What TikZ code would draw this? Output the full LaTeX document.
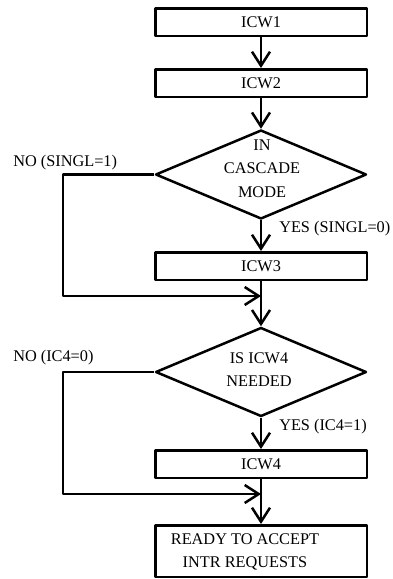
\documentclass[tikz,border=0pt]{standalone}
\usepackage{fontspec}
\setmainfont{Liberation Serif}
\usetikzlibrary{shapes.geometric,arrows.meta}
\begin{document}
\begin{tikzpicture}[x=1pt,y=-1pt,
  line width=2.5pt, line join=round,
  every node/.style={font=\fontsize{16.3}{23.5}\selectfont},
  stepbox/.style={draw, rectangle, minimum width=211.5pt, minimum height=27.5pt, inner sep=0pt},
  decision/.style={draw, diamond, minimum width=211pt, minimum height=89pt, inner sep=0pt},
  flow/.style={-{Straight Barb[length=14pt,width=18pt]}},
  lbl/.style={anchor=west, inner sep=0pt}]
\useasboundingbox (0,0) rectangle (392,579);

% process steps
\node[stepbox] (icw1) at (261,22) {ICW1};
\node[stepbox] (icw2) at (261,83) {ICW2};
\node[decision] (d1) at (261,174.5) {};
\node[align=center] (t1) at (262,168.5) {IN\\CASCADE\\MODE};
\node[stepbox] (icw3) at (261,266) {ICW3};
\node[decision] (d2) at (261,372) {};
\node[align=center] (t2) at (259,369.5) {IS ICW4\\NEEDED};
\node[stepbox] (icw4) at (261,464) {ICW4};
\node[stepbox, minimum height=51.5pt] (ready) at (261,551) {};
\node[align=center] (t3) at (245,552) {READY TO ACCEPT\\INTR REQUESTS};

% branch labels
\node[lbl] (no1) at (12,163) {NO (SINGL=1)};
\node[lbl] (yes1) at (278,229) {YES (SINGL=0)};
\node[lbl] (no2) at (12,358) {NO (IC4=0)};
\node[lbl] (yes2) at (278,427) {YES (IC4=1)};

% merge points and bypass corners
\coordinate (m1) at (261,296);
\coordinate (m2) at (261,494);
\coordinate (c1a) at (63,174.5);
\coordinate (c1b) at (63,296);
\coordinate (c2a) at (63,372);
\coordinate (c2b) at (63,494);

% main flow
\draw[flow] (icw1) -- (icw2);
\draw[flow] (icw2) -- (d1.north);
\draw[flow] (d1.south) -- (icw3);
\draw[flow] (icw3) -- (d2.north);
\draw[flow] (d2.south) -- (icw4);
\draw[flow] (icw4) -- (ready);

% bypass branches
\draw[flow] (d1.west) -- (c1a) -- (c1b) -- (m1);
\draw[flow] (d2.west) -- (c2a) -- (c2b) -- (m2);
\end{tikzpicture}
\end{document}
